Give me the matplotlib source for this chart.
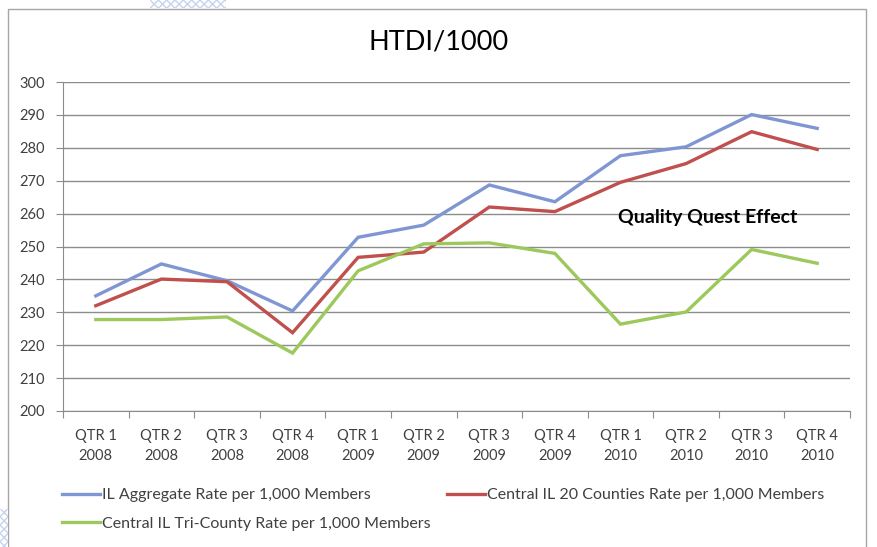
import numpy as np
import matplotlib
matplotlib.use('Agg')
import matplotlib.pyplot as plt
from matplotlib.patches import Rectangle

plt.rcParams['font.family'] = ['Lato', 'DejaVu Sans']

quarters = ['QTR 1\n2008', 'QTR 2\n2008', 'QTR 3\n2008', 'QTR 4\n2008',
            'QTR 1\n2009', 'QTR 2\n2009', 'QTR 3\n2009', 'QTR 4\n2009',
            'QTR 1\n2010', 'QTR 2\n2010', 'QTR 3\n2010', 'QTR 4\n2010']
il_aggregate = [235.0, 244.7, 239.6, 230.4, 252.8, 256.5, 268.7, 263.6, 277.6, 280.3, 290.1, 285.9]
central_20 = [232.0, 240.1, 239.3, 223.8, 246.7, 248.3, 262.0, 260.6, 269.5, 275.2, 284.9, 279.5]
tri_county = [227.8, 227.8, 228.6, 217.6, 242.6, 250.8, 251.1, 247.9, 226.4, 230.1, 249.1, 244.9]

series_names = ['IL Aggregate Rate per 1,000 Members',
                'Central IL 20 Counties Rate per 1,000 Members',
                'Central IL Tri-County Rate per 1,000 Members']
colors = ['#7f96d3', '#c0504d', '#9dc85c']

W, H = 877, 547
fig = plt.figure(figsize=(W / 100, H / 100), dpi=100)

# chart frame and the little hatched bits around it
fig.patches.append(Rectangle((8 / W, -0.05), 858 / W, 1.05 - 9 / H, transform=fig.transFigure,
                             fill=False, edgecolor='#a6a6a6', lw=1))
fig.patches.append(Rectangle((150 / W, 1 - 8 / H), 76 / W, 8 / H, transform=fig.transFigure,
                             facecolor='white', edgecolor='#c5d5ec', hatch='xxxx', lw=0))
fig.patches.append(Rectangle((0, 0), 8 / W, 38 / H, transform=fig.transFigure,
                             facecolor='white', edgecolor='#c5d5ec', hatch='xxxx', lw=0))

ax = fig.add_axes([63 / W, (H - 411) / H, 787 / W, 329 / H])
x = np.arange(len(quarters))
lines = []
for vals, name, c in zip([il_aggregate, central_20, tri_county], series_names, colors):
    ln, = ax.plot(x, vals, color=c, lw=2.4, label=name, solid_joinstyle='miter')
    lines.append(ln)

ax.set_xlim(-0.5, len(quarters) - 0.5)
ax.set_ylim(200, 300)
ax.set_yticks(np.arange(200, 301, 10))
ax.yaxis.grid(True, color='#8c8c8c', lw=1)
ax.set_axisbelow(True)

ax.set_xticks(np.arange(-0.5, len(quarters), 1))
ax.set_xticklabels([])
ax.set_xticks(x, minor=True)
ax.set_xticklabels(quarters, minor=True, fontsize=10.5, color='#404040', linespacing=1.5)
ax.tick_params(axis='x', which='major', length=5, color='#8c8c8c', direction='out')
ax.tick_params(axis='x', which='minor', length=0, pad=13)
ax.tick_params(axis='y', length=5, color='#8c8c8c', labelsize=10.5, labelcolor='#404040', pad=8)

for s in ['top', 'right']:
    ax.spines[s].set_visible(False)
for s in ['left', 'bottom']:
    ax.spines[s].set_color('#8c8c8c')

fig.text(439 / W, 1 - 42 / H, 'HTDI/1000', ha='center', va='center', fontsize=19.5, color='black')
ax.text(9.33, 258.8, 'Quality Quest Effect', ha='center', va='center', fontsize=14,
        fontweight='bold', color='black')

# one legend per entry so each sits where Excel put it
legend_spots = [(62, 495), (447, 495), (62, 524)]
for ln, (lx, ly) in zip(lines, legend_spots):
    lg = fig.legend([ln], [ln.get_label()], loc='center left', bbox_to_anchor=(lx / W, 1 - ly / H),
                    frameon=False, fontsize=11.5, handlelength=2.4, handletextpad=0.1,
                    borderpad=0, borderaxespad=0, labelcolor='#404040')

fig.savefig('out.png', dpi=100)
